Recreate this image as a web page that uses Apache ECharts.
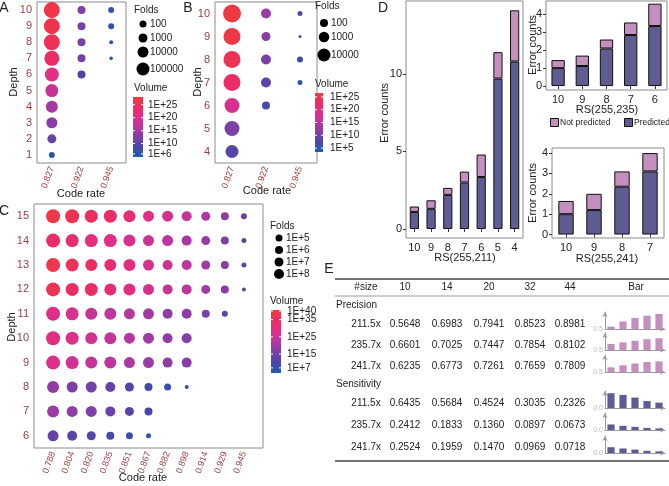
<!DOCTYPE html>
<html><head><meta charset="utf-8">
<script src="https://cdn.jsdelivr.net/npm/echarts@6/dist/echarts.min.js"></script>
<style>html,body{margin:0;padding:0;background:#fff}#c{width:669px;height:486px}</style>
</head><body><div id="c"></div>
<script>
// ================= DATA =================
// Panel A
const aRates = ['0.827', '0.922', '0.945'];
const aDepths = ['1', '2', '3', '4', '5', '6', '7', '8', '9', '10'];
// log10(folds) per depth row (columns follow aRates)
const aFolds = [[1.5], [3], [4], [4.5], [5], [5.5, 2.5], [6, 2.5, 0.3], [6.5, 2.5, 0.5], [6.5, 2.5, 1.5], [6.5, 2.5, 1.5]];
// log10(volume) per depth row
const aVolume = [[6], [11], [13], [15], [17.5], [21, 9], [24, 11.5, 5.5], [25.5, 12, 6], [26.5, 12, 7], [27, 12.5, 7]];
const aFoldTicks = [2, 3, 4, 5];
const aFoldLabels = ['100', '1000', '10000', '100000'];
const aVolTicks = [25, 20, 15, 10, 6];

// Panel B
const bRates = ['0.827', '0.922', '0.945'];
const bDepths = ['4', '5', '6', '7', '8', '9', '10'];
const bFolds = [[4], [4.8], [4.8, 2], [5.6, 2.8, 0.8], [5.6, 2.8, 1.2], [5.6, 2.4, 0], [6, 2.8, 0.8]];
const bVolume = [[8], [11], [18, 7], [22, 8.5, 5], [24, 11, 6], [25.5, 12, 9], [26, 13, 9]];
const bFoldTicks = [2, 3, 4];
const bFoldLabels = ['100', '1000', '10000'];
const bVolTicks = [25, 20, 15, 10, 5];

// Panel C
const cRates = ['0.788', '0.804', '0.820', '0.835', '0.851', '0.867', '0.882', '0.898', '0.914', '0.929', '0.945'];
const cDepths = ['6', '7', '8', '9', '10', '11', '12', '13', '14', '15'];
const cFolds = [
  [9, 8, 7, 6, 5, 3],
  [10, 9, 9, 8, 7, 6],
  [10, 9, 9, 8, 7, 6, 5, 2],
  [12, 11, 10, 10, 9, 9, 8, 8],
  [12, 11, 10, 10, 9, 9, 8, 8],
  [12, 11, 10, 10, 9, 9, 8, 8, 6, 4],
  [12, 11, 11, 10, 10, 9, 8, 8, 7, 6, 2],
  [12, 11, 10, 10, 10, 9, 8, 8, 7, 6, 3],
  [12, 11, 11, 11, 10, 9, 9, 8, 7, 6, 3],
  [12, 12, 11, 11, 10, 9, 9, 8, 7, 6, 4]
];
const cVolume = [
  [13, 12, 11, 9, 8, 6],
  [19, 18, 16, 14, 12, 10],
  [18, 16, 15, 13, 11, 9, 8, 6],
  [28, 26, 24, 23, 21, 19, 18, 17],
  [30, 28, 26, 24, 22, 20, 18, 17],
  [29, 27, 25, 23, 22, 20, 18, 18, 16, 12],
  [37, 35, 34, 32, 30, 27, 25, 23, 20, 17, 13],
  [38, 36, 34, 32, 30, 27, 25, 23, 20, 17, 13],
  [33, 32, 31, 29, 27, 25, 23, 21, 19, 16, 13],
  [39, 37, 35, 34, 32, 29, 27, 24, 21, 17, 14]
];
const cFoldTicks = [5, 6, 7, 8];
const cVolTicks = [40, 35, 25, 15, 7];

// Panel D
const d211Cats = ['10', '9', '8', '7', '6', '5', '4'];
const d211Pred = [1.1, 1.3, 2.2, 3.0, 3.35, 9.7, 10.8];
const d211NotPred = [0.35, 0.55, 0.45, 0.7, 1.45, 1.7, 3.3];
const d235Cats = ['10', '9', '8', '7', '6'];
const d235Pred = [1.0, 1.12, 2.1, 2.85, 3.35];
const d235NotPred = [0.45, 0.58, 0.5, 0.7, 1.25];
const d241Cats = ['10', '9', '8', '7'];
const d241Pred = [1.0, 1.2, 2.35, 3.1];
const d241NotPred = [0.65, 0.8, 0.75, 0.9];
const dLegend = ['Not predicted', 'Predicted'];

// Panel E
const eSizes = ['10', '14', '20', '32', '44'];
const eGroups = ['211.5x', '235.7x', '241.7x'];
const precision211 = [0.5648, 0.6983, 0.7941, 0.8523, 0.8981];
const precision235 = [0.6601, 0.7025, 0.7447, 0.7854, 0.8102];
const precision241 = [0.6235, 0.6773, 0.7261, 0.7659, 0.7809];
const sensitivity211 = [0.6435, 0.5684, 0.4524, 0.3035, 0.2326];
const sensitivity235 = [0.2412, 0.1833, 0.1360, 0.0897, 0.0673];
const sensitivity241 = [0.2524, 0.1959, 0.1470, 0.0969, 0.0718];

// ================= STYLE =================
const FONT = '"Liberation Sans", Arial, sans-serif';
const TICKRED = '#9c3b3b';
const GRAD = ['#1f5db0', '#4a46a9', '#7e40a7', '#b8379f', '#df2f8a', '#ea2d62', '#ef3b3d'];
const C_PRED = '#5f5c93';
const C_NOT = '#c48fbf';
const sizeA = L => 3 + 2 * L;
const sizeB = L => 3 + 2.5 * L;
const sizeC = L => 2 + L;

function bubbleData(rates, depths, folds, vols) {
  const out = [];
  folds.forEach((row, i) => row.forEach((f, j) => out.push([rates[j], depths[i], f, vols[i][j]])));
  return out;
}

const chart = echarts.init(document.getElementById('c'), null, {renderer: 'canvas'});

const grids = [
  {left: 37, top: 2, width: 89, height: 161},
  {left: 215, top: 2, width: 102, height: 161},
  {left: 34, top: 204, width: 229, height: 244},
  {left: 406, top: 1, width: 117, height: 237},
  {left: 546, top: 1, width: 121, height: 89},
  {left: 552, top: 148, width: 112, height: 90}
];
const miniTops = [312, 333, 355, 391, 413, 436];
miniTops.forEach(t => grids.push({left: 605, top: t, width: 60, height: 17}));
grids.forEach((g, i) => { if (i < 6) { g.show = true; g.borderColor = '#8a8a8a'; g.borderWidth = 1; } });

const xAxes = [], yAxes = [];
function bubbleAxes(gi, xcats, ycats, boundary) {
  xAxes.push({gridIndex: gi, type: 'category', data: xcats, boundaryGap: boundary,
    axisLine: {show: false}, axisTick: {show: false}, splitLine: {show: false},
    axisLabel: {interval: 0, rotate: 70, color: TICKRED, fontSize: 9, fontFamily: FONT, margin: 4}});
  yAxes.push({gridIndex: gi, type: 'category', data: ycats, boundaryGap: true,
    axisLine: {show: false}, axisTick: {show: false}, splitLine: {show: false},
    axisLabel: {interval: 0, color: TICKRED, fontSize: 11, fontFamily: FONT, margin: 5}});
}
bubbleAxes(0, aRates, aDepths, true);
bubbleAxes(1, bRates, bDepths, true);
bubbleAxes(2, [''].concat(cRates, [' ']), cDepths, false);

function barAxes(gi, cats, ymin, ymax, ticks) {
  xAxes.push({gridIndex: gi, type: 'category', data: cats, boundaryGap: true,
    axisLine: {show: false}, axisTick: {show: true, length: 3, alignWithLabel: true, lineStyle: {color: '#333'}},
    axisLabel: {color: '#222', fontSize: 11, fontFamily: FONT, margin: 4}});
  yAxes.push({gridIndex: gi, type: 'value', min: ymin, max: ymax,
    axisLine: {show: false}, splitLine: {show: false},
    axisTick: {show: true, length: 3, customValues: ticks, lineStyle: {color: '#333'}},
    axisLabel: {customValues: ticks, color: '#222', fontSize: 11, fontFamily: FONT, margin: 4}});
}
barAxes(3, d211Cats, -0.58, 14.7, [0, 5, 10]);
barAxes(4, d235Cats, -0.22, 4.75, [0, 1, 2, 3, 4]);
barAxes(5, d241Cats, -0.17, 4.25, [0, 1, 2, 3, 4]);

function miniAxes(gi, ymin, ymax) {
  const ln = {show: true, symbol: ['none', 'arrow'], symbolSize: [4, 5], lineStyle: {color: '#999', width: 1}};
  xAxes.push({gridIndex: gi, type: 'category', data: eSizes, boundaryGap: true,
    axisLine: ln, axisTick: {show: false}, axisLabel: {show: false}});
  yAxes.push({gridIndex: gi, type: 'value', min: ymin, max: ymax,
    axisLine: ln, axisTick: {show: false}, splitLine: {show: false},
    axisLabel: {customValues: [ymin], formatter: v => v.toFixed(1), color: '#bbb', fontSize: 7, fontFamily: FONT, margin: 2}});
}
for (let i = 0; i < 3; i++) miniAxes(6 + i, 0.5, 0.95);
for (let i = 0; i < 3; i++) miniAxes(9 + i, 0, 0.74);

const bubbleStyle = {opacity: 1};
const series = [
  {type: 'scatter', xAxisIndex: 0, yAxisIndex: 0, itemStyle: bubbleStyle, data: bubbleData(aRates, aDepths, aFolds, aVolume), symbolSize: v => sizeA(v[2])},
  {type: 'scatter', xAxisIndex: 1, yAxisIndex: 1, itemStyle: bubbleStyle, data: bubbleData(bRates, bDepths, bFolds, bVolume), symbolSize: v => sizeB(v[2])},
  {type: 'scatter', xAxisIndex: 2, yAxisIndex: 2, itemStyle: bubbleStyle, data: bubbleData(cRates, cDepths, cFolds, cVolume), symbolSize: v => sizeC(v[2])}
];
function stacked(ai, pred, notp, key) {
  const common = {type: 'bar', xAxisIndex: ai, yAxisIndex: ai, stack: key, barWidth: '55%'};
  series.push(Object.assign({name: dLegend[1], data: pred, itemStyle: {color: C_PRED, borderColor: '#111', borderWidth: 1}}, common));
  series.push(Object.assign({name: dLegend[0], data: notp, itemStyle: {color: C_NOT, borderColor: '#111', borderWidth: 1}}, common));
}
stacked(3, d211Pred, d211NotPred, 's211');
stacked(4, d235Pred, d235NotPred, 's235');
stacked(5, d241Pred, d241NotPred, 's241');
[precision211, precision235, precision241].forEach((d, i) => series.push({type: 'bar', xAxisIndex: 6 + i, yAxisIndex: 6 + i, data: d, barWidth: '60%', itemStyle: {color: C_NOT}}));
[sensitivity211, sensitivity235, sensitivity241].forEach((d, i) => series.push({type: 'bar', xAxisIndex: 9 + i, yAxisIndex: 9 + i, data: d, barWidth: '60%', itemStyle: {color: C_PRED}}));

const vmRanges = [[4.8, 28], [3.5, 26.5], [4, 40.6]];
const visualMap = vmRanges.map((r, i) => ({show: false, type: 'continuous', seriesIndex: i, dimension: 3, min: r[0], max: r[1], inRange: {color: GRAD}}));

// ================= GRAPHICS (text, legends, table) =================
const G = [];
function T(x, y, text, o = {}) {
  G.push({type: 'text', x, y, rotation: o.rot || 0, silent: true,
    style: {text, fill: o.fill || '#222', font: `${o.weight || 'normal'} ${o.size || 11}px ${FONT}`,
      align: o.align || 'center', verticalAlign: 'middle'}});
}
function L(x1, y1, x2, y2, stroke, w) {
  G.push({type: 'line', silent: true, shape: {x1, y1, x2, y2}, style: {stroke, lineWidth: w}});
}
// panel letters
T(4, 8, 'A', {size: 14}); T(188, 8, 'B', {size: 14}); T(4, 211, 'C', {size: 14});
T(383, 8, 'D', {size: 14}); T(329, 269, 'E', {size: 14});
// axis titles
T(14, 82, 'Depth', {rot: Math.PI / 2}); T(81, 194, 'Code rate');
T(198, 82, 'Depth', {rot: Math.PI / 2}); T(267, 191, 'Code rate');
T(12, 327, 'Depth', {rot: Math.PI / 2}); T(143, 478, 'Code rate');
T(385, 113, 'Error counts', {rot: Math.PI / 2}); T(465, 258, 'RS(255,211)');
T(533, 45, 'Error counts', {rot: Math.PI / 2}); T(607, 110, 'RS(255,235)');
T(533, 193, 'Error counts', {rot: Math.PI / 2}); T(607, 259, 'RS(255,241)');

// D legend (Not predicted / Predicted)
[[550, C_NOT], [624, C_PRED]].forEach(([x, col], i) => {
  G.push({type: 'rect', silent: true, shape: {x: x + 0.5, y: 118.5, width: 8, height: 8}, style: {fill: col, stroke: '#111', lineWidth: 1}});
  T(x + 10, 123, dLegend[i], {align: 'left', size: 8.5});
});

// size + colour legends
function sizeLegend(x, y0, title, ys, ticks, labels, fn, lx) {
  T(x, y0, title, {align: 'left', size: 10});
  ticks.forEach((t, i) => {
    G.push({type: 'circle', silent: true, shape: {cx: x + 9, cy: ys[i], r: fn(t) / 2}, style: {fill: '#000'}});
    T(lx, ys[i], labels[i], {align: 'left', size: 10});
  });
}
function colorLegend(x, yTitle, bx, by, bw, bh, range, ticks, lx) {
  T(x, yTitle, 'Volume', {align: 'left', size: 10});
  const stops = GRAD.map((c, i) => ({offset: i / (GRAD.length - 1), color: c}));
  G.push({type: 'rect', silent: true, shape: {x: bx, y: by, width: bw, height: bh},
    style: {fill: new echarts.graphic.LinearGradient(0, 1, 0, 0, stops)}});
  ticks.forEach(t => {
    const y = by + bh - (t - range[0]) / (range[1] - range[0]) * bh;
    L(bx, y, bx + 2, y, '#fff', 1); L(bx + bw - 2, y, bx + bw, y, '#fff', 1);
    T(lx, y, '1E+' + t, {align: 'left', size: 10});
  });
}
sizeLegend(134, 10, 'Folds', [24, 38, 52, 69], aFoldTicks, aFoldLabels, sizeA, 150);
colorLegend(134, 88, 133, 97, 10, 60, vmRanges[0], aVolTicks, 148);
sizeLegend(315, 6, 'Folds', [23, 37, 55], bFoldTicks, bFoldLabels, sizeB, 331);
colorLegend(315, 84, 315, 93, 8, 59, vmRanges[1], bVolTicks, 330);
sizeLegend(270, 226, 'Folds', [238, 250, 262, 274], cFoldTicks, cFoldTicks.map(t => '1E+' + t), sizeC, 286);
colorLegend(270, 301, 271, 310, 10, 63, vmRanges[2], cVolTicks, 287);

// table
const colX = [405, 447, 489, 530, 570];
L(335, 279, 669, 279, '#444', 1.5);
T(366, 287, '#size', {size: 10});
eSizes.forEach((s, i) => T(colX[i], 287, s, {size: 10}));
T(636, 287, 'Bar', {size: 10});
L(335, 296, 669, 296, '#999', 1);
T(336, 305, 'Precision', {align: 'left', size: 10});
T(336, 384, 'Sensitivity', {align: 'left', size: 10});
const rowsY = [324, 345, 366, 403, 425, 447];
const tableVals = [precision211, precision235, precision241, sensitivity211, sensitivity235, sensitivity241];
tableVals.forEach((vals, r) => {
  T(366, rowsY[r], eGroups[r % 3], {size: 10});
  vals.forEach((v, i) => T(colX[i], rowsY[r], v.toFixed(4), {size: 10}));
});
L(335, 461, 669, 461, '#444', 1.5);

chart.setOption({
  animation: false,
  textStyle: {fontFamily: FONT},
  grid: grids, xAxis: xAxes, yAxis: yAxes, series, visualMap,
  graphic: G
});
</script></body></html>
